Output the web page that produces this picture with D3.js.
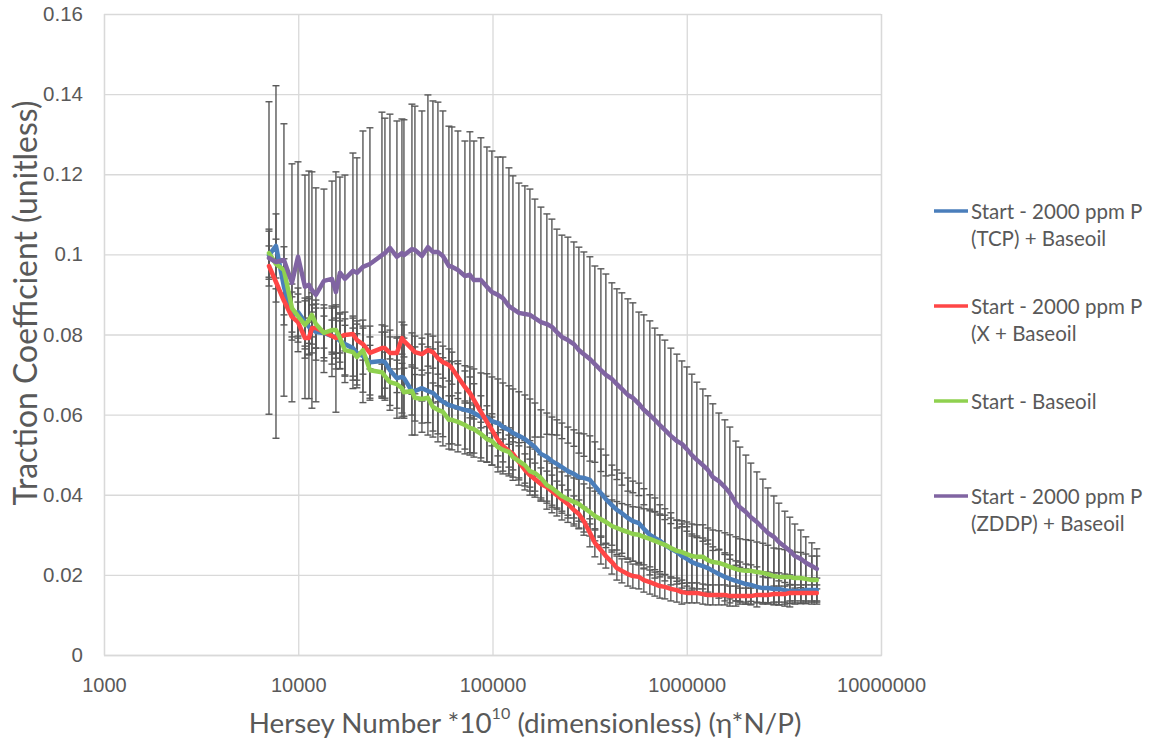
<!DOCTYPE html>
<html>
<head>
<meta charset="utf-8">
<title>Traction coefficient vs Hersey number</title>
<script src="https://cdn.jsdelivr.net/npm/d3@7"></script>
<style>
  html, body { margin: 0; padding: 0; background: #ffffff; }
  svg { display: block; font-family: Lato, "Open Sans", "Noto Sans", sans-serif; }
</style>
</head>
<body>
<svg id="chart" width="1153" height="751"></svg>
<script>
// Hersey number (*1e10) at each measured step
const hersey = [7070,7680,8440,9280,9970,10830,11350,11760,12330,13560,
  14910,15630,16390,17390,19120,20050,21530,23390,26970,27940,
  29650,32210,34180,35000,38480,39870,43320,46510,49350,52360,
  55540,59650,61800,66370,72110,76500,80220,87150,93590,99290,
  106600,113100,121500,127400,136700,146800,155800,165300,177500,190500,
  202200,214500,227600,244400,262400,278400,295400,317200,336500,361400,
  383400,411700,436800,463400,497600,527900,566900,601400,645800,685200,
  727000,771300,828200,889400,943600,1001000,1062400,1127200,1210400,1284200,
  1362500,1463100,1571100,1666900,1789900,1876800,2015400,2138100,2296100,2465600,
  2615800,2808800,2979300,3198800,3393600,3601200,3866200,4102400,4405200,4673200];

// Start - 2000 ppm P (TCP) + Baseoil
const tcp = [0.0998,0.1021,0.0919,0.0846,0.0856,0.0831,0.0819,0.0814,0.0806,0.0804,
  0.0796,0.0794,0.0784,0.0776,0.0766,0.0754,0.0746,0.0731,0.0734,0.0731,
  0.0711,0.0691,0.0694,0.0691,0.0659,0.0659,0.0666,0.0659,0.0654,0.0642,
  0.0632,0.0624,0.0622,0.0617,0.0612,0.0609,0.0604,0.0594,0.0592,0.0584,
  0.0579,0.0569,0.0562,0.0554,0.0547,0.0539,0.0529,0.0519,0.0502,0.0494,
  0.0484,0.0477,0.0469,0.0459,0.0452,0.0444,0.0442,0.0437,0.0422,0.0404,
  0.0389,0.0374,0.0362,0.0354,0.0342,0.0334,0.0329,0.0315,0.0300,0.0292,
  0.0285,0.0275,0.0265,0.0257,0.0247,0.0240,0.0232,0.0227,0.0222,0.0217,
  0.0210,0.0202,0.0195,0.0190,0.0185,0.0182,0.0177,0.0175,0.0170,0.0167,
  0.0167,0.0165,0.0165,0.0162,0.0160,0.0160,0.0160,0.0162,0.0162,0.0162];
const tcpErr = [0.006,0.008,0.007,0.006,0.006,0.006,0.007,0.006,0.007,0.007,
  0.007,0.008,0.007,0.008,0.008,0.008,0.009,0.009,0.009,0.009,
  0.010,0.010,0.010,0.010,0.011,0.011,0.011,0.011,0.011,0.011,
  0.011,0.011,0.011,0.011,0.011,0.011,0.011,0.011,0.011,0.011,
  0.011,0.011,0.011,0.011,0.011,0.011,0.011,0.011,0.011,0.011,
  0.011,0.011,0.011,0.011,0.011,0.011,0.011,0.011,0.011,0.011,
  0.011,0.010,0.010,0.010,0.010,0.010,0.010,0.010,0.010,0.010,
  0.009,0.009,0.009,0.008,0.008,0.008,0.007,0.007,0.007,0.007,
  0.006,0.006,0.006,0.006,0.005,0.005,0.005,0.005,0.005,0.004,
  0.004,0.004,0.004,0.004,0.004,0.003,0.003,0.003,0.003,0.003];

// Start - 2000 ppm P (X + Baseoil
const xAdd = [0.0971,0.0931,0.0884,0.0844,0.0831,0.0791,0.0791,0.0816,0.0816,0.0806,
  0.0796,0.0791,0.0794,0.0799,0.0801,0.0786,0.0776,0.0754,0.0766,0.0766,
  0.0754,0.0754,0.0791,0.0784,0.0764,0.0756,0.0751,0.0761,0.0756,0.0741,
  0.0731,0.0724,0.0716,0.0694,0.0669,0.0654,0.0637,0.0607,0.0582,0.0562,
  0.0537,0.0522,0.0509,0.0502,0.0482,0.0462,0.0449,0.0439,0.0427,0.0419,
  0.0409,0.0399,0.0389,0.0377,0.0362,0.0352,0.0334,0.0305,0.0280,0.0262,
  0.0247,0.0232,0.0217,0.0210,0.0202,0.0197,0.0195,0.0187,0.0182,0.0177,
  0.0172,0.0170,0.0165,0.0162,0.0157,0.0155,0.0155,0.0155,0.0152,0.0150,
  0.0150,0.0150,0.0150,0.0147,0.0147,0.0147,0.0147,0.0147,0.0150,0.0150,
  0.0150,0.0152,0.0152,0.0152,0.0155,0.0155,0.0155,0.0155,0.0155,0.0155];
const xAddErr = [0.005,0.005,0.006,0.005,0.005,0.005,0.004,0.004,0.005,0.004,
  0.004,0.005,0.004,0.004,0.004,0.004,0.004,0.004,0.004,0.004,
  0.004,0.004,0.004,0.004,0.004,0.004,0.004,0.004,0.004,0.004,
  0.004,0.004,0.004,0.004,0.004,0.004,0.004,0.004,0.004,0.004,
  0.004,0.004,0.004,0.004,0.004,0.004,0.004,0.004,0.004,0.004,
  0.004,0.0035,0.0035,0.0035,0.0035,0.0035,0.0035,0.0035,0.0035,0.0035,
  0.003,0.003,0.003,0.003,0.003,0.003,0.003,0.003,0.003,0.003,
  0.003,0.003,0.003,0.003,0.003,0.0025,0.0025,0.0025,0.0025,0.0025,
  0.0025,0.0025,0.0025,0.0025,0.0025,0.002,0.002,0.002,0.002,0.002,
  0.002,0.002,0.002,0.002,0.002,0.002,0.002,0.002,0.002,0.002];

// Start - Baseoil
const baseoil = [0.1003,0.0976,0.0961,0.0866,0.0846,0.0824,0.0836,0.0849,0.0826,0.0804,
  0.0811,0.0811,0.0791,0.0761,0.0756,0.0744,0.0761,0.0711,0.0706,0.0696,
  0.0681,0.0676,0.0666,0.0656,0.0659,0.0642,0.0639,0.0642,0.0619,0.0612,
  0.0607,0.0587,0.0587,0.0582,0.0574,0.0567,0.0564,0.0552,0.0539,0.0534,
  0.0519,0.0512,0.0507,0.0494,0.0484,0.0474,0.0459,0.0454,0.0442,0.0424,
  0.0417,0.0407,0.0397,0.0389,0.0382,0.0377,0.0367,0.0357,0.0347,0.0339,
  0.0332,0.0322,0.0317,0.0312,0.0307,0.0302,0.0300,0.0295,0.0290,0.0285,
  0.0280,0.0275,0.0267,0.0260,0.0257,0.0252,0.0247,0.0245,0.0245,0.0237,
  0.0232,0.0230,0.0225,0.0220,0.0215,0.0212,0.0210,0.0210,0.0207,0.0205,
  0.0202,0.0197,0.0195,0.0195,0.0195,0.0192,0.0192,0.0190,0.0187,0.0187];
const baseoilErr = [0.006,0.0062,0.0058,0.006,0.0055,0.006,0.0058,0.0055,0.006,0.0062,
  0.006,0.0058,0.006,0.0062,0.006,0.0058,0.006,0.0062,0.006,0.006,
  0.0058,0.006,0.0062,0.006,0.006,0.0058,0.006,0.0062,0.006,0.006,
  0.0062,0.006,0.006,0.0058,0.006,0.0062,0.006,0.006,0.0058,0.006,
  0.0062,0.006,0.006,0.0058,0.006,0.0062,0.006,0.006,0.0058,0.006,
  0.0062,0.006,0.006,0.0058,0.006,0.0062,0.006,0.006,0.0062,0.0064,
  0.0064,0.0065,0.0066,0.0066,0.0068,0.0068,0.0069,0.007,0.007,0.0072,
  0.0072,0.0074,0.0075,0.0076,0.0078,0.008,0.008,0.008,0.008,0.008,
  0.008,0.008,0.008,0.008,0.008,0.0078,0.0078,0.0076,0.0075,0.0074,
  0.0072,0.007,0.007,0.0068,0.0066,0.0065,0.0064,0.0062,0.006,0.006];

// Start - 2000 ppm P (ZDDP) + Baseoil
const zddp = [0.0991,0.0981,0.0986,0.0929,0.0994,0.0919,0.0924,0.0911,0.0899,0.0934,
  0.0939,0.0906,0.0954,0.0939,0.0959,0.0954,0.0969,0.0976,0.0998,0.1003,
  0.1016,0.0994,0.1003,0.0998,0.1013,0.1011,0.0996,0.1018,0.1006,0.1006,
  0.0996,0.0971,0.0969,0.0961,0.0946,0.0949,0.0936,0.0936,0.0919,0.0906,
  0.0899,0.0891,0.0871,0.0864,0.0854,0.0851,0.0849,0.0841,0.0831,0.0826,
  0.0819,0.0806,0.0794,0.0786,0.0776,0.0761,0.0751,0.0739,0.0726,0.0711,
  0.0699,0.0689,0.0676,0.0664,0.0649,0.0642,0.0627,0.0612,0.0599,0.0587,
  0.0574,0.0562,0.0547,0.0534,0.0527,0.0514,0.0499,0.0487,0.0474,0.0462,
  0.0444,0.0434,0.0419,0.0404,0.0379,0.0369,0.0357,0.0344,0.0332,0.0317,
  0.0305,0.0295,0.0282,0.0270,0.0260,0.0247,0.0240,0.0230,0.0222,0.0215];
const zddpErr = [0.039,0.044,0.034,0.0297,0.0237,0.0279,0.0284,0.0295,0.0267,0.0229,
  0.0244,0.030,0.0239,0.0259,0.0294,0.0287,0.0339,0.034,0.0357,0.0337,
  0.0334,0.0339,0.0335,0.0338,0.0362,0.0359,0.0362,0.038,0.0377,0.0374,
  0.0362,0.0349,0.0349,0.0347,0.0337,0.0357,0.0347,0.0355,0.0349,0.0352,
  0.0344,0.0352,0.0345,0.0332,0.0324,0.032,0.0314,0.0297,0.0287,0.0275,
  0.0269,0.0257,0.0254,0.0257,0.0255,0.0257,0.0255,0.0255,0.0245,0.0253,
  0.0252,0.024,0.0238,0.024,0.024,0.0237,0.0229,0.0237,0.0235,0.0229,
  0.0225,0.0224,0.0219,0.0217,0.0207,0.0205,0.0202,0.0194,0.019,0.0185,
  0.0183,0.017,0.0168,0.0165,0.0155,0.015,0.0142,0.0135,0.0125,0.0122,
  0.0112,0.0102,0.0097,0.0089,0.0084,0.008,0.0072,0.0065,0.0058,0.005];

const legendLabels = [
  ["Start - 2000 ppm P", "(TCP) + Baseoil"],
  ["Start - 2000 ppm P", "(X + Baseoil"],
  ["Start - Baseoil"],
  ["Start - 2000 ppm P", "(ZDDP) + Baseoil"]
];
const seriesColors = ["#4a7ebb", "#ff4646", "#8fd14f", "#8064a2"];

const yTickValues = [0, 0.02, 0.04, 0.06, 0.08, 0.1, 0.12, 0.14, 0.16];
const yTickLabels = ["0", "0.02", "0.04", "0.06", "0.08", "0.1", "0.12", "0.14", "0.16"];
const xTickValues = [1000, 10000, 100000, 1000000, 10000000];
const xTickLabels = ["1000", "10000", "100000", "1000000", "10000000"];

const series = [
  { values: tcp, err: tcpErr },
  { values: xAdd, err: xAddErr },
  { values: baseoil, err: baseoilErr },
  { values: zddp, err: zddpErr }
].map((s, i) => ({
  color: seriesColors[i],
  label: legendLabels[i],
  points: hersey.map((h, j) => ({ h, v: s.values[j], e: s.err[j] }))
}));

const svg = d3.select("#chart");
const plot = { left: 104, right: 881, top: 14, bottom: 655 };

const x = d3.scaleLog().domain([1000, 10000000]).range([plot.left, plot.right]);
const y = d3.scaleLinear().domain([0, 0.16]).range([plot.bottom, plot.top]);

const textGray = "#595959";
const gridColor = "#d9d9d9";

// Gridlines and tick labels via D3 axes
const yAxis = d3.axisLeft(y)
  .tickValues(yTickValues)
  .tickFormat((d, i) => yTickLabels[i])
  .tickSize(-(plot.right - plot.left))
  .tickPadding(21);
svg.append("g")
  .attr("transform", `translate(${plot.left},0)`)
  .call(yAxis)
  .call(g => g.select(".domain").remove())
  .call(g => g.selectAll(".tick line").attr("stroke", gridColor).attr("stroke-width", 1.3))
  .call(g => g.selectAll(".tick text")
    .attr("fill", textGray).attr("font-size", 20.5).attr("font-family", null));

const xAxis = d3.axisBottom(x)
  .tickValues(xTickValues)
  .tickFormat((d, i) => xTickLabels[i])
  .tickSize(-(plot.bottom - plot.top))
  .tickPadding(23);
svg.append("g")
  .attr("transform", `translate(0,${plot.bottom})`)
  .call(xAxis)
  .call(g => g.select(".domain").attr("stroke", gridColor).attr("stroke-width", 1.3))
  .call(g => g.selectAll(".tick line").attr("stroke", gridColor).attr("stroke-width", 1.3))
  .call(g => g.selectAll(".tick text")
    .attr("fill", textGray).attr("font-size", 20).attr("font-family", null));

// Error bars (drawn beneath all series lines)
const barColor = "#585858";
const capHalf = 3.5;
const bars = svg.append("g").attr("class", "error-bars")
  .attr("stroke", barColor).attr("stroke-width", 1.4).attr("fill", "none");
series.forEach(s => {
  const g = bars.append("g");
  const pts = g.selectAll("g").data(s.points).join("g");
  pts.append("line")
    .attr("x1", d => x(d.h)).attr("x2", d => x(d.h))
    .attr("y1", d => y(d.v - d.e)).attr("y2", d => y(d.v + d.e));
  pts.append("line")
    .attr("x1", d => x(d.h) - capHalf).attr("x2", d => x(d.h) + capHalf)
    .attr("y1", d => y(d.v + d.e)).attr("y2", d => y(d.v + d.e));
  pts.append("line")
    .attr("x1", d => x(d.h) - capHalf).attr("x2", d => x(d.h) + capHalf)
    .attr("y1", d => y(d.v - d.e)).attr("y2", d => y(d.v - d.e));
});

// Series lines
const line = d3.line().x(d => x(d.h)).y(d => y(d.v));
svg.append("g").attr("class", "series")
  .selectAll("path").data(series).join("path")
  .attr("d", d => line(d.points))
  .attr("fill", "none")
  .attr("stroke", d => d.color)
  .attr("stroke-width", 4.5)
  .attr("stroke-linejoin", "round")
  .attr("stroke-linecap", "round");

// Fit a text element's font size to a target rendered width
function fitWidth(sel, target) {
  const size = parseFloat(sel.attr("font-size"));
  const w = sel.node().getComputedTextLength();
  if (w > 0) sel.attr("font-size", (size * target / w).toFixed(2));
}

// Axis titles
const yTitle = svg.append("text")
  .attr("transform", "translate(24,303) rotate(-90)")
  .attr("text-anchor", "middle")
  .attr("dominant-baseline", "central")
  .attr("fill", textGray)
  .attr("font-size", 28)
  .text("Traction Coefficient (unitless)");
fitWidth(yTitle, 405);

const xTitle = svg.append("text")
  .attr("x", 525).attr("y", 722)
  .attr("text-anchor", "middle")
  .attr("dominant-baseline", "central")
  .attr("fill", textGray)
  .attr("font-size", 26);
xTitle.append("tspan").text("Hersey Number *10");
xTitle.append("tspan").attr("font-size", "0.58em").attr("dy", "-0.6em").text("10");
xTitle.append("tspan").attr("dy", "0.35em").text(" (dimensionless) (η*N/P)");
fitWidth(xTitle, 553);

// Legend
const legendY = [211, 306, 401, 496];
const legend = svg.append("g").attr("class", "legend");
series.forEach((s, i) => {
  const g = legend.append("g").attr("transform", `translate(0,${legendY[i]})`);
  g.append("line")
    .attr("x1", 934).attr("x2", 968).attr("y1", 0).attr("y2", 0)
    .attr("stroke", s.color).attr("stroke-width", 3.5);
  s.label.forEach((t, k) => {
    g.append("text")
      .attr("x", 971).attr("y", k * 27)
      .attr("dominant-baseline", "central")
      .attr("fill", textGray)
      .attr("font-size", 20.5)
      .text(t);
  });
});
</script>
</body>
</html>
